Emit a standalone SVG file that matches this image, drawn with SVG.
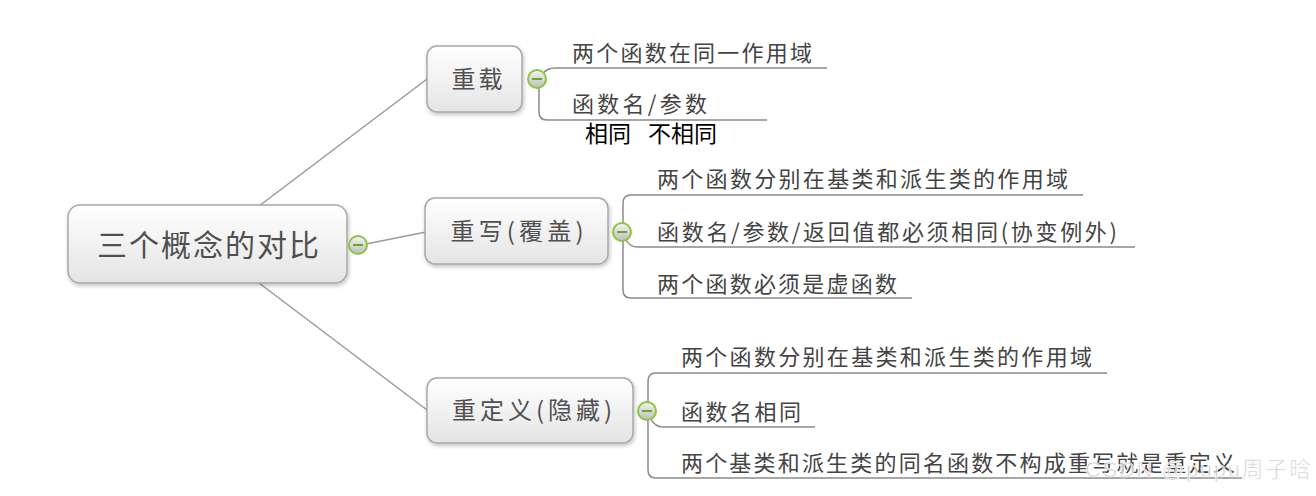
<svg xmlns="http://www.w3.org/2000/svg" width="1316" height="496" viewBox="0 0 1316 496">
<defs>
<linearGradient id="ng" x1="0" y1="0" x2="0" y2="1">
<stop offset="0" stop-color="#ffffff"/>
<stop offset="1" stop-color="#e4e4e4"/>
</linearGradient>
<linearGradient id="cg" x1="0" y1="0" x2="0" y2="1">
<stop offset="0" stop-color="#f4f4f4"/>
<stop offset="1" stop-color="#bdbdbd"/>
</linearGradient>
<filter id="sh" x="-10%" y="-10%" width="130%" height="140%">
<feGaussianBlur in="SourceAlpha" stdDeviation="2"/>
<feOffset dx="1" dy="2"/>
<feComponentTransfer><feFuncA type="linear" slope="0.25"/></feComponentTransfer>
<feMerge><feMergeNode/><feMergeNode in="SourceGraphic"/></feMerge>
</filter>
</defs>
<style>
.node{fill:url(#ng);stroke:#a8a8a8;stroke-width:1.5;filter:url(#sh)}
.nt{font-family:"Noto Sans CJK SC","Liberation Sans",sans-serif;fill:#505050;text-anchor:middle}
.lt{font-family:"Noto Sans CJK SC","Liberation Sans",sans-serif;fill:#444;font-size:22px}
.conn{fill:none;stroke:#9a9a9a;stroke-width:1.5}
.br{fill:none;stroke:#8a8a8a;stroke-width:1.5}
.tog circle{fill:url(#cg);stroke:#8cc63f;stroke-width:2}
.tog line{stroke:#6aa82a;stroke-width:2}
</style>
<rect width="1316" height="496" fill="#ffffff"/>

<g id="connectors">
<line class="conn" x1="259" y1="206" x2="427" y2="79"/>
<line class="conn" x1="366" y1="244" x2="426" y2="232"/>
<line class="conn" x1="259" y1="283" x2="427" y2="410"/>
<path class="br" d="M543,74 Q546,68 556,68 L827,68"/>
<path class="br" d="M539,88 L539,112 Q539,120 547,120 L767,120"/>
<path class="br" d="M623,224 L623,203 Q623,195 631,195 L1083,195"/>
<path class="br" d="M626,240 Q630,247 638,247 L1135,247"/>
<path class="br" d="M623,240 L623,290 Q623,298 631,298 L912,298"/>
<path class="br" d="M648,402 L648,381 Q648,373 656,373 L1107,373"/>
<path class="br" d="M651,419 Q655,427 663,427 L815,427"/>
<path class="br" d="M648,419 L648,470 Q648,478 656,478 L1242,478"/>
</g>

<g id="root">
<rect class="node" x="68" y="205" width="279" height="78" rx="12"/>
<text class="nt" x="208" y="256" font-size="30" textLength="222" lengthAdjust="spacing">三个概念的对比</text>
<g class="tog"><circle cx="358" cy="245" r="9"/><line x1="353" y1="245" x2="363" y2="245"/></g>
</g>

<g id="n-overload">
<rect class="node" x="427" y="46" width="95" height="66" rx="10"/>
<text class="nt" x="477" y="88" font-size="24" textLength="51" lengthAdjust="spacing">重载</text>
<g class="tog"><circle cx="537" cy="79" r="9"/><line x1="532" y1="79" x2="542" y2="79"/></g>
<text class="lt" x="572" y="61" textLength="240" lengthAdjust="spacing">两个函数在同一作用域</text>
<text class="lt" x="572" y="112" textLength="135" lengthAdjust="spacing">函数名/参数</text>
<text x="585" y="142" font-family="Noto Sans CJK SC,Liberation Sans,sans-serif" font-size="23" fill="#000">相同</text>
<text x="648" y="142" font-family="Noto Sans CJK SC,Liberation Sans,sans-serif" font-size="23" fill="#000">不相同</text>
</g>

<g id="n-override">
<rect class="node" x="425" y="198" width="183" height="66" rx="10"/>
<text class="nt" x="517" y="240" font-size="24" textLength="133" lengthAdjust="spacing">重写(覆盖)</text>
<g class="tog"><circle cx="622" cy="232" r="9"/><line x1="617" y1="232" x2="627" y2="232"/></g>
<text class="lt" x="657" y="187" textLength="411" lengthAdjust="spacing">两个函数分别在基类和派生类的作用域</text>
<text class="lt" x="657" y="240" textLength="460" lengthAdjust="spacing">函数名/参数/返回值都必须相同(协变例外)</text>
<text class="lt" x="657" y="292" textLength="240" lengthAdjust="spacing">两个函数必须是虚函数</text>
</g>

<g id="n-hide">
<rect class="node" x="427" y="378" width="206" height="65" rx="10"/>
<text class="nt" x="532" y="419" font-size="24" textLength="160" lengthAdjust="spacing">重定义(隐藏)</text>
<g class="tog"><circle cx="647" cy="411" r="9"/><line x1="642" y1="411" x2="652" y2="411"/></g>
<text class="lt" x="681" y="365" textLength="411" lengthAdjust="spacing">两个函数分别在基类和派生类的作用域</text>
<text class="lt" x="681" y="420" textLength="120" lengthAdjust="spacing">函数名相同</text>
<text class="lt" x="681" y="471" textLength="554" lengthAdjust="spacing">两个基类和派生类的同名函数不构成重写就是重定义</text>
</g>

<text x="1085" y="477" font-family="Liberation Sans,Noto Sans CJK SC,sans-serif" font-size="22" fill="#c8c8c8" fill-opacity="0.85" stroke="#ffffff" stroke-width="0.6" textLength="226" lengthAdjust="spacing">CSDN @pupu周子晗</text>
</svg>
